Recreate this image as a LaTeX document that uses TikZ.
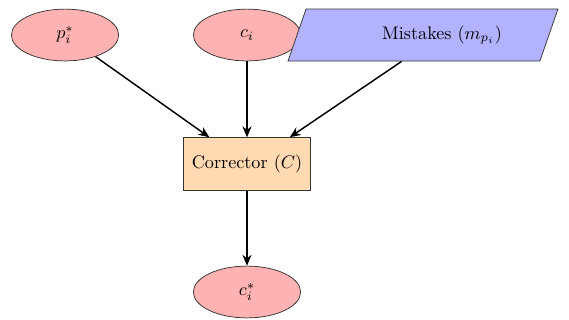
\documentclass[tikz,border=0pt]{standalone}
\usepackage{amsmath,amssymb}
\usepackage{xcolor}
\usetikzlibrary{shapes.geometric,arrows.meta}

\begin{document}
\begin{tikzpicture}[
    inputnode/.style={ellipse, draw=black!80, fill=red!30, minimum width=59pt, minimum height=28.5pt, inner sep=1pt},
    mistakenode/.style={trapezium, trapezium left angle=64, trapezium right angle=116, trapezium stretches=true, draw=black!80, fill=blue!30, minimum width=148.5pt, minimum height=28.6pt, inner sep=2pt},
    corrnode/.style={rectangle, draw=black!80, fill=orange!30, minimum width=70pt, minimum height=29pt},
    flow/.style={-{Stealth[length=6pt,width=5pt]}, thick}
]
        %RAMKA
        \useasboundingbox (0,0) rectangle (11.0,-6.186);
        %WEJSCIA
        \node[inputnode] (p) at (1.257,-0.677) {$p_i^*$};
        \node[inputnode] (c) at (4.775,-0.677) {$c_i$};
        \node[mistakenode] (m) at (8.177,-0.677) {\hspace*{21pt}Mistakes ($m_{p_i}$)};
        %KOREKTOR
        \node[corrnode] (corr) at (4.775,-3.170) {Corrector ($C$)};
        %WYJSCIE
        \node[inputnode] (cs) at (4.775,-5.645) {$c_i^*$};
        %STRZALKI
        \draw[flow] (p) -- (corr);
        \draw[flow] (c) -- (corr);
        \draw[flow] (m.-129) -- (corr.32);
        \draw[flow] (corr) -- (cs);
    \end{tikzpicture}
\end{document}
